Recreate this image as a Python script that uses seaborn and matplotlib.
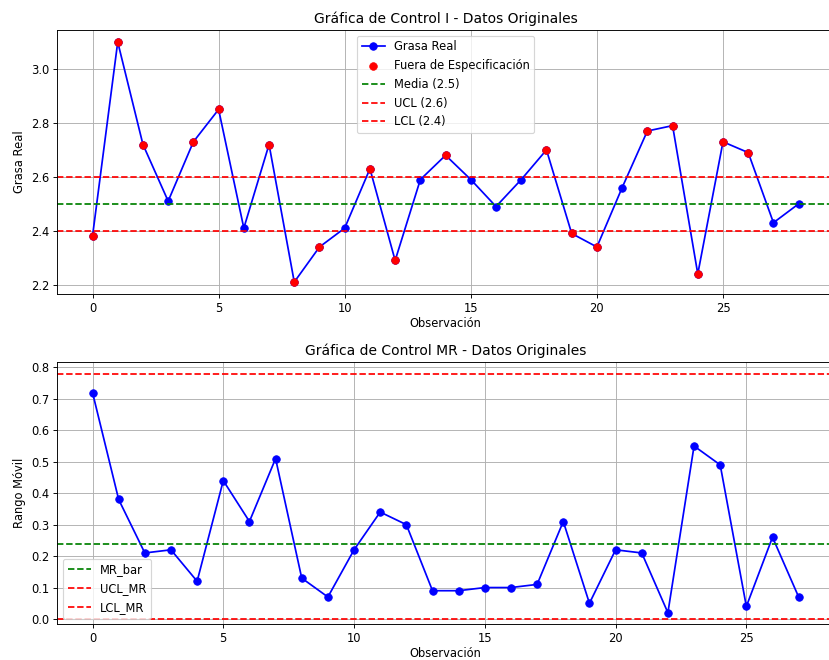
import matplotlib
matplotlib.use("Agg")
import matplotlib.pyplot as plt
import numpy as np
import pandas as pd
import seaborn as sns

# grasa real por observacion
observaciones = list(range(29))
grasa = [2.38, 3.10, 2.72, 2.51, 2.73, 2.85, 2.41, 2.72, 2.21, 2.34,
         2.41, 2.63, 2.29, 2.59, 2.68, 2.59, 2.49, 2.59, 2.70, 2.39,
         2.34, 2.56, 2.77, 2.79, 2.24, 2.73, 2.69, 2.43, 2.50]
media, ucl, lcl = 2.5, 2.6, 2.4

# rango movil
obs_mr = list(range(28))
rango_movil = [0.72, 0.38, 0.21, 0.22, 0.12, 0.44, 0.31, 0.51, 0.13, 0.07,
               0.22, 0.34, 0.30, 0.09, 0.09, 0.10, 0.10, 0.11, 0.31, 0.05,
               0.22, 0.21, 0.02, 0.55, 0.49, 0.04, 0.26, 0.07]
mr_bar, ucl_mr, lcl_mr = 0.24, 0.78, 0.0

df = pd.DataFrame({"obs": observaciones, "grasa": grasa})
fuera = df[(df["grasa"] > ucl) | (df["grasa"] < lcl)]
df_mr = pd.DataFrame({"obs": obs_mr, "mr": rango_movil})

fig = plt.figure(figsize=(829 / 83, 660 / 83), dpi=83)
# right edge of the axes is cut off in the original screenshot
ax1 = fig.add_axes([0.069, 0.5545, 0.937, 0.4])
ax2 = fig.add_axes([0.069, 0.054, 0.937, 0.397])

# I chart
sns.lineplot(data=df, x="obs", y="grasa", ax=ax1, color="blue", marker="o",
             markeredgecolor="blue", markersize=6.5, label="Grasa Real")
sns.scatterplot(data=fuera, x="obs", y="grasa", ax=ax1, color="red", s=45,
                edgecolor="red", zorder=3, label="Fuera de Especificación")
ax1.axhline(media, color="green", linestyle="--", label=f"Media ({media})")
ax1.axhline(ucl, color="red", linestyle="--", label=f"UCL ({ucl})")
ax1.axhline(lcl, color="red", linestyle="--", label=f"LCL ({lcl})")
ax1.set_xlim(-1.4, 29.4)
ax1.set_title("Gráfica de Control I - Datos Originales")
ax1.set_xlabel("Observación", labelpad=2)
ax1.set_ylabel("Grasa Real")
ax1.legend(loc="upper center")
ax1.grid(True)

# MR chart
sns.lineplot(data=df_mr, x="obs", y="mr", ax=ax2, color="blue", marker="o",
             markeredgecolor="blue", markersize=6.5)
ax2.axhline(mr_bar, color="green", linestyle="--", label="MR_bar")
ax2.axhline(ucl_mr, color="red", linestyle="--", label="UCL_MR")
ax2.axhline(lcl_mr, color="red", linestyle="--", label="LCL_MR")
ax2.set_xlim(-1.35, 28.35)
ax2.set_ylim(-0.017, 0.816)
ax2.set_title("Gráfica de Control MR - Datos Originales")
ax2.set_xlabel("Observación", labelpad=1)
ax2.set_ylabel("Rango Móvil")
ax2.legend(loc="lower left")
ax2.grid(True)

fig.savefig("out.png", dpi=83)
